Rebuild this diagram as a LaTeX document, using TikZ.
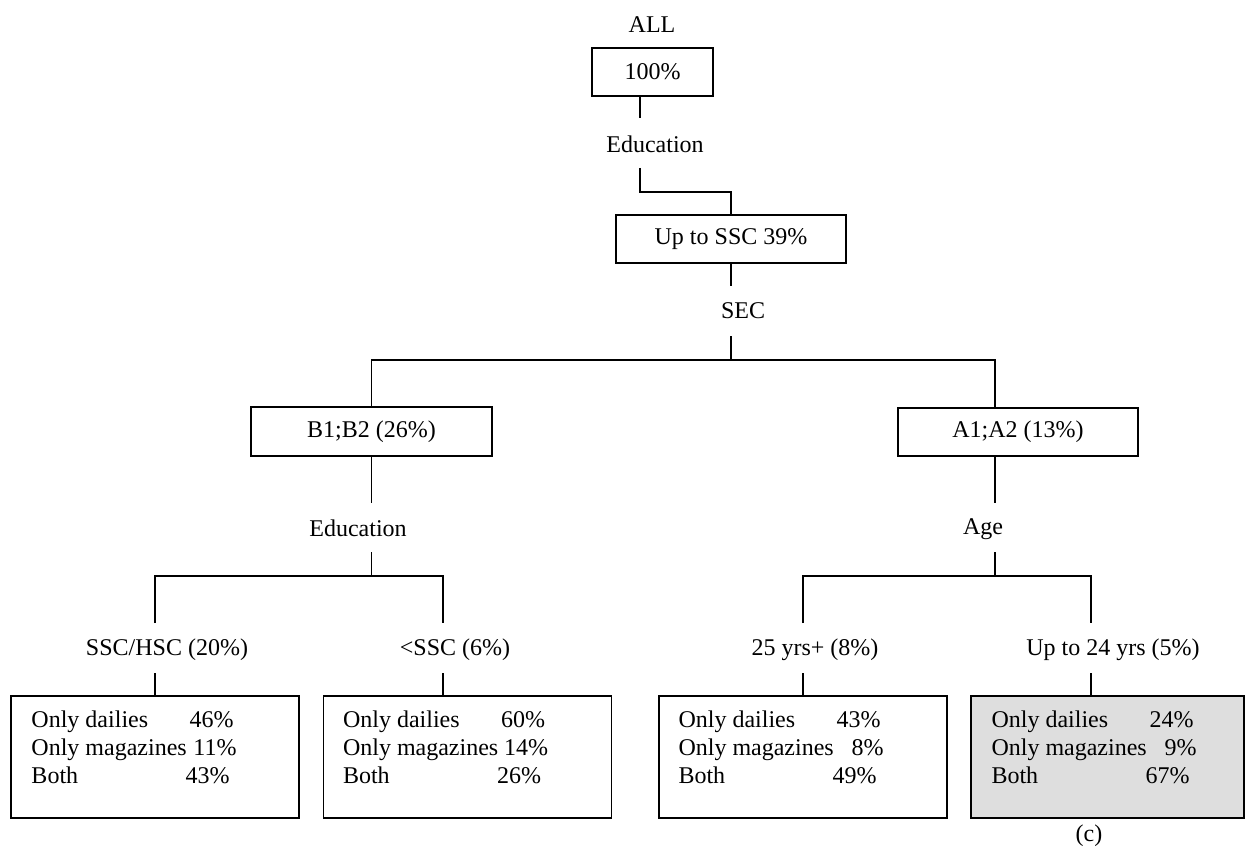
\documentclass[tikz,border=0pt]{standalone}
\usepackage{fontspec}
\setmainfont{Liberation Serif}
\begin{document}
\begin{tikzpicture}[x=0.5pt,y=-0.5pt,
  every node/.style={font=\fontsize{12}{14}\selectfont},
  lbl/.style={inner sep=0pt},
  boxnode/.style={draw, line width=0.9pt, inner sep=0pt, minimum height=24pt},
  leaf/.style={draw, line width=0.9pt, inner sep=0pt, minimum width=144pt, minimum height=61pt},
  leaftext/.style={inner sep=0pt, anchor=base west},
  conn/.style={line width=0.9pt}]
\useasboundingbox (0,0) rectangle (1247,850);
\newcommand{\leafrows}[3]{\begin{tabular}[t]{@{}l@{}}\makebox[101pt][l]{Only dailies\hfill #1\%}\\\makebox[102.5pt][l]{Only magazines\hfill #2\%}\\\makebox[99pt][l]{Both\hfill #3\%}\end{tabular}}

% labels and boxes
\node[lbl] (all) at (652,24.5) {ALL};
\node[boxnode, minimum width=60.5pt] (top) at (652.5,72) {100\%};
\node[lbl] (edu1) at (655,144) {Education};
\node[boxnode, minimum width=115pt] (ssc) at (731,239) {Up to SSC 39\%};
\node[lbl] (sec) at (743,311) {SEC};
\node[boxnode, minimum width=120.5pt, minimum height=24.5pt] (b12) at (371.5,431.5) {B1;B2 (26\%)};
\node[boxnode, minimum width=120pt] (a12) at (1018,432) {A1;A2 (13\%)};
\node[lbl] (edu2) at (358,528) {Education};
\node[lbl] (age) at (983,529) {Age};
\node[lbl] (sh) at (167,650) {SSC/HSC (20\%)};
\node[lbl] (lt) at (455,650) {<SSC (6\%)};
\node[lbl] (y25) at (815,650) {25 yrs+ (8\%)};
\node[lbl] (y24) at (1113,650) {Up to 24 yrs (5\%)};

\node[leaf] (leaf1) at (155,757) {};
\node[leaf] (leaf2) at (467.5,757) {};
\node[leaf] (leaf3) at (803,757) {};
\node[leaf, fill=black!13, minimum width=136.5pt] (leaf4) at (1107.5,757) {};
\path (leaf1.north west) ++(21,32) node[leaftext] (t1) {\leafrows{46}{11}{43}};
\path (leaf2.north west) ++(20,32) node[leaftext] (t2) {\leafrows{60}{14}{26}};
\path (leaf3.north west) ++(20,32) node[leaftext] (t3) {\leafrows{43}{8}{49}};
\path (leaf4.north west) ++(21,32) node[leaftext] (t4) {\leafrows{24}{9}{67}};
\node[lbl] (cap) at (1089,836) {(c)};

% connector points
\coordinate (j1) at (640,118);
\coordinate (j2a) at (640,168);
\coordinate (j2b) at (640,192);
\coordinate (j3) at (731,286);
\coordinate (j4) at (731,336);
\coordinate (sA) at (995,360);
\coordinate (b12d) at (371.5,503);
\coordinate (a12d) at (995,503);
\coordinate (e2a) at (371.5,552);
\coordinate (e2b) at (371.5,576);
\coordinate (ag1) at (995,552);
\coordinate (ag2) at (995,576);
\coordinate (l1) at (155,623);
\coordinate (l2) at (443,623);
\coordinate (l3) at (803,623);
\coordinate (l4) at (1091,623);
\coordinate (l1b) at (155,673);
\coordinate (l2b) at (443,673);
\coordinate (l3b) at (803,673);
\coordinate (l4b) at (1091,673);

% connectors
\draw[conn] (j1 |- top.south) -- (j1);
\draw[conn] (j2a) -- (j2b) -| (ssc.north);
\draw[conn] (ssc.south) -- (j3);
\draw[conn] (j4) -- (j4 |- sA);
\draw[conn] (b12.north) |- (sA) -- (sA |- a12.north);
\draw[conn] (b12.south) -- (b12d);
\draw[conn] (a12d |- a12.south) -- (a12d);
\draw[conn] (e2a) -- (e2b);
\draw[conn] (l1) |- (e2b) -| (l2);
\draw[conn] (ag1) -- (ag2);
\draw[conn] (l3) |- (ag2) -| (l4);
\draw[conn] (l1b) -- (leaf1.north);
\draw[conn] (l2b) -- (l2b |- leaf2.north);
\draw[conn] (l3b) -- (leaf3.north);
\draw[conn] (l4b) -- (l4b |- leaf4.north);
\end{tikzpicture}
\end{document}
